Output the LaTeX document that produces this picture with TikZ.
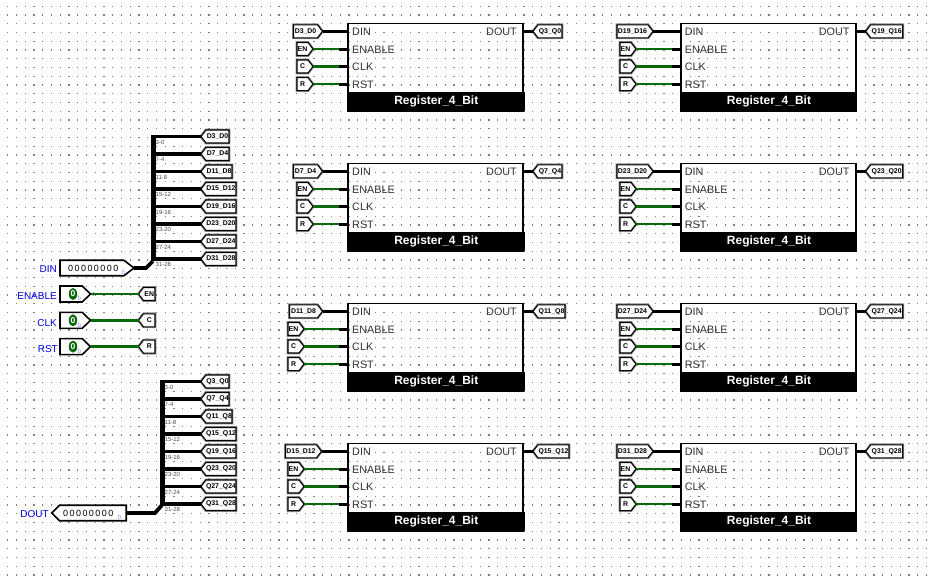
\documentclass[tikz,border=0pt]{standalone}
\usepackage{fontspec}
\setmainfont{Liberation Sans}
\usetikzlibrary{shapes.symbols,shapes.geometric}
\definecolor{wiregreen}{HTML}{0A6A0A}
\definecolor{dotgray}{HTML}{808080}
\definecolor{pinblue}{HTML}{0000E6}
\tikzset{
  tunbase/.style={shape=signal,signal from=nowhere,draw=black,fill=white,line width=1.1pt,
    preaction={draw=black!45,line width=2.8pt},inner sep=0pt,outer sep=0pt,minimum height=13pt,
    font=\bfseries\fontsize{6.9}{7}\selectfont,text=black},
  tunnelR/.style={tunbase,signal to=east,signal pointer angle=105},
  tunnelL/.style={tunbase,signal to=west,signal pointer angle=105},
  pinbase/.style={shape=signal,signal from=nowhere,draw=black,fill=white,line width=1.6pt,inner sep=0pt,outer sep=0pt},
  busw/.style={line width=3.5pt,draw=black,line cap=butt},
  trunkw/.style={line width=5pt,draw=black},
  bitw/.style={line width=2.5pt,draw=wiregreen},
  stubw/.style={line width=3pt,draw=black},
  regbox/.style={draw=black,line width=1.6pt},
  regbar/.style={fill=black,draw=black,line width=1.6pt,text=white,font=\bfseries\fontsize{12}{14}\selectfont,inner sep=0pt},
  port/.style={font=\fontsize{10.8}{12}\selectfont,text=black!80,inner sep=0pt},
  pinlab/.style={font=\fontsize{10}{12}\selectfont,text=pinblue,inner sep=0pt,anchor=east},
  bitlab/.style={font=\fontsize{6}{7}\selectfont,text=black!70,inner sep=0pt,anchor=west},
  radix/.style={font=\fontsize{6.5}{7}\selectfont,text=blue!40,inner sep=0pt},
  valtext/.style={font=\fontsize{9}{10}\selectfont\addfontfeature{LetterSpace=16},text=black,inner sep=0pt},
}
\newcommand{\tunR}[6][]{\node[tunnelR,minimum width=#4pt,anchor=west] (#2) at (#3,#5) {#6};}
\newcommand{\tunL}[6][]{\node[tunnelL,minimum width=#4pt,anchor=west] (#2) at (#3,#5) {#6};}
\newcommand{\regblock}[9]{%
  \coordinate (#1dinp) at (#2,#3+8);
  \coordinate (#1enp) at (#2,#3+25.7);
  \coordinate (#1ckp) at (#2,#3+43.2);
  \coordinate (#1rsp) at (#2,#3+60.8);
  \coordinate (#1qp) at (#2+175,#3+8);
  \coordinate (#1enm) at (#2-9,#3+25.7);
  \coordinate (#1ckm) at (#2-9,#3+43.2);
  \coordinate (#1rsm) at (#2-9,#3+60.8);
  \draw[regbox] (#2,#3) rectangle (#2+175,#3+88);
  \node[regbar,minimum width=175pt,minimum height=17.5pt,anchor=south west] (#1bar) at (#2,#3+88) {Register\_4\_Bit};
  \node[port,anchor=west] (#1a) at (#2+4,#3+8.3) {DIN};
  \node[port,anchor=west] (#1b) at (#2+4,#3+26) {ENABLE};
  \node[port,anchor=west] (#1c) at (#2+4,#3+43.5) {CLK};
  \node[port,anchor=west] (#1d) at (#2+4,#3+61) {RST};
  \node[port,anchor=east] (#1e) at (#2+169,#3+8.3) {DOUT};
  \tunR{#1din}{#4}{#5}{#3+8}{#8}
  \tunR{#1en}{#6}{16}{#3+25.7}{EN}
  \tunR{#1ck}{#6}{16}{#3+43.2}{C}
  \tunR{#1rs}{#6}{16}{#3+60.8}{R}
  \tunL{#1q}{#2+185}{#7}{#3+8}{#9}
  \draw[busw] (#1din.east) -- (#1dinp);
  \draw[busw] (#1qp) -- (#1q.west);
  \draw[bitw] (#1en.east) -- (#1enm);
  \draw[bitw] (#1ck.east) -- (#1ckm);
  \draw[bitw] (#1rs.east) -- (#1rsm);
  \draw[stubw] (#1enm) -- (#1enp);
  \draw[stubw] (#1ckm) -- (#1ckp);
  \draw[stubw] (#1rsm) -- (#1rsp);
}
\begin{document}
\begin{tikzpicture}[x=1pt,y=-1pt]
\useasboundingbox (0,0) rectangle (931,582);
\fill[white] (0,0) rectangle (931,582);
\foreach \i in {0,...,105}{
  \foreach \j in {0,...,65}{
    \pgfmathsetmacro{\dx}{7.5+8.75*\i}
    \pgfmathsetmacro{\dy}{6.2+8.75*\j}
    \pgfmathsetmacro{\dw}{ifthenelse(mod(\i,4)==3,0.95,0.45)}
    \pgfmathsetmacro{\dh}{ifthenelse(mod(\j,4)==1,0.95,0.45)}
    \fill[dotgray] (\dx-\dw,\dy-\dh) rectangle (\dx+\dw,\dy+\dh);
  }
}
\regblock{ra}{348}{23.3}{293.5}{29}{297}{29}{D3\_D0}{Q3\_Q0}
\regblock{rb}{348}{163.3}{293.5}{29}{297}{29}{D7\_D4}{Q7\_Q4}
\regblock{rc}{348}{303.3}{289.5}{33}{288}{32}{D11\_D8}{Q11\_Q8}
\regblock{rd}{348}{443.3}{285.5}{36}{288}{36}{D15\_D12}{Q15\_Q12}
\regblock{re}{680.7}{23.3}{617}{36}{620}{37}{D19\_D16}{Q19\_Q16}
\regblock{rf}{680.7}{163.3}{617}{36}{620}{37}{D23\_D20}{Q23\_Q20}
\regblock{rg}{680.7}{303.3}{617}{36}{620}{37}{D27\_D24}{Q27\_Q24}
\regblock{rh}{680.7}{443.3}{617}{36}{620}{37}{D31\_D28}{Q31\_Q28}
\coordinate (dintop) at (153,135);
\coordinate (dinbot) at (153,261);
\coordinate (dindiag) at (146,268);
\draw[trunkw] (dintop) -- (dinbot);
\node[pinbase,signal to=east,signal pointer angle=75,minimum width=74pt,minimum height=15.5pt,anchor=west] (pindin) at (60,268) {};
\draw[line width=3.8pt] (pindin.east) -- (dindiag) -- (dinbot);
\node[valtext,anchor=west] (vdin) at (68,268) {00000000};
\node[radix] (rdin) at (124,272.5) {b};
\node[pinlab] (ldin) at (57,269.5) {DIN};
\foreach \nm/\txt/\bits/\w/\k in {a/D3\_D0/3-0/28/0,b/D7\_D4/7-4/28/1,c/D11\_D8/11-8/31/2,d/D15\_D12/15-12/35/3,e/D19\_D16/19-16/35/4,f/D23\_D20/23-20/35/5,g/D27\_D24/27-24/35/6,h/D31\_D28/31-28/35/7}{
  \pgfmathsetmacro{\yy}{136.5+17.5*\k}
  \tunL{in\nm}{201}{\w}{\yy}{\txt}
  \coordinate (inj\nm) at (153,\yy);
  \draw[busw] (inj\nm) -- (in\nm.west);
  \node[bitlab] (inb\nm) at (155.5,\yy+5.5) {\bits};
}
\foreach \nm/\txt/\short/\yy/\lx in {en/ENABLE/EN/294/57,ck/CLK/C/320.3/57,rs/RST/R/346.6/58}{
  \node[pinbase,signal to=east,signal pointer angle=88,minimum width=30.5pt,minimum height=16pt,anchor=west] (pin\nm) at (60,\yy) {};
  \node[tunnelL,minimum width=16.5pt,anchor=west] (t\nm) at (138.5,\yy) {\short};
  \draw[bitw] (pin\nm.east) -- (t\nm.west);
  \fill[wiregreen] (pin\nm.east) ++(3,0) circle (1.7pt);
  \node[shape=ellipse,fill=wiregreen,inner sep=0pt,minimum width=8.5pt,minimum height=12pt,text=white,font=\bfseries\fontsize{8.5}{9}\selectfont] (v\nm) at (73,\yy) {0};
  \node[radix] (r\nm) at (79.5,\yy+4.5) {b};
  \node[pinlab] (l\nm) at (\lx,\yy+2.3) {\txt};
}
\coordinate (doutop) at (162,380);
\coordinate (doubot) at (162,505);
\coordinate (doudiag) at (155,513);
\draw[trunkw] (doutop) -- (doubot);
\node[pinbase,signal to=west,signal pointer angle=90,minimum width=74.5pt,minimum height=15.5pt,anchor=west] (pindou) at (51.7,513) {};
\draw[line width=3.8pt] (pindou.east) -- (doudiag) -- (doubot);
\node[valtext,anchor=west] (vdou) at (63,513) {00000000};
\node[radix] (rdou) at (119.5,517.5) {b};
\node[pinlab] (ldou) at (49,514) {DOUT};
\foreach \nm/\txt/\bits/\w/\k in {a/Q3\_Q0/3-0/28/0,b/Q7\_Q4/7-4/28/1,c/Q11\_Q8/11-8/31/2,d/Q15\_Q12/15-12/35/3,e/Q19\_Q16/19-16/35/4,f/Q23\_Q20/23-20/35/5,g/Q27\_Q24/27-24/35/6,h/Q31\_Q28/31-28/35/7}{
  \pgfmathsetmacro{\yy}{381.5+17.5*\k}
  \tunL{ou\nm}{201}{\w}{\yy}{\txt}
  \coordinate (ouj\nm) at (162,\yy);
  \draw[busw] (ouj\nm) -- (ou\nm.west);
  \node[bitlab] (oub\nm) at (164.5,\yy+5.5) {\bits};
}
\end{tikzpicture}
\end{document}
